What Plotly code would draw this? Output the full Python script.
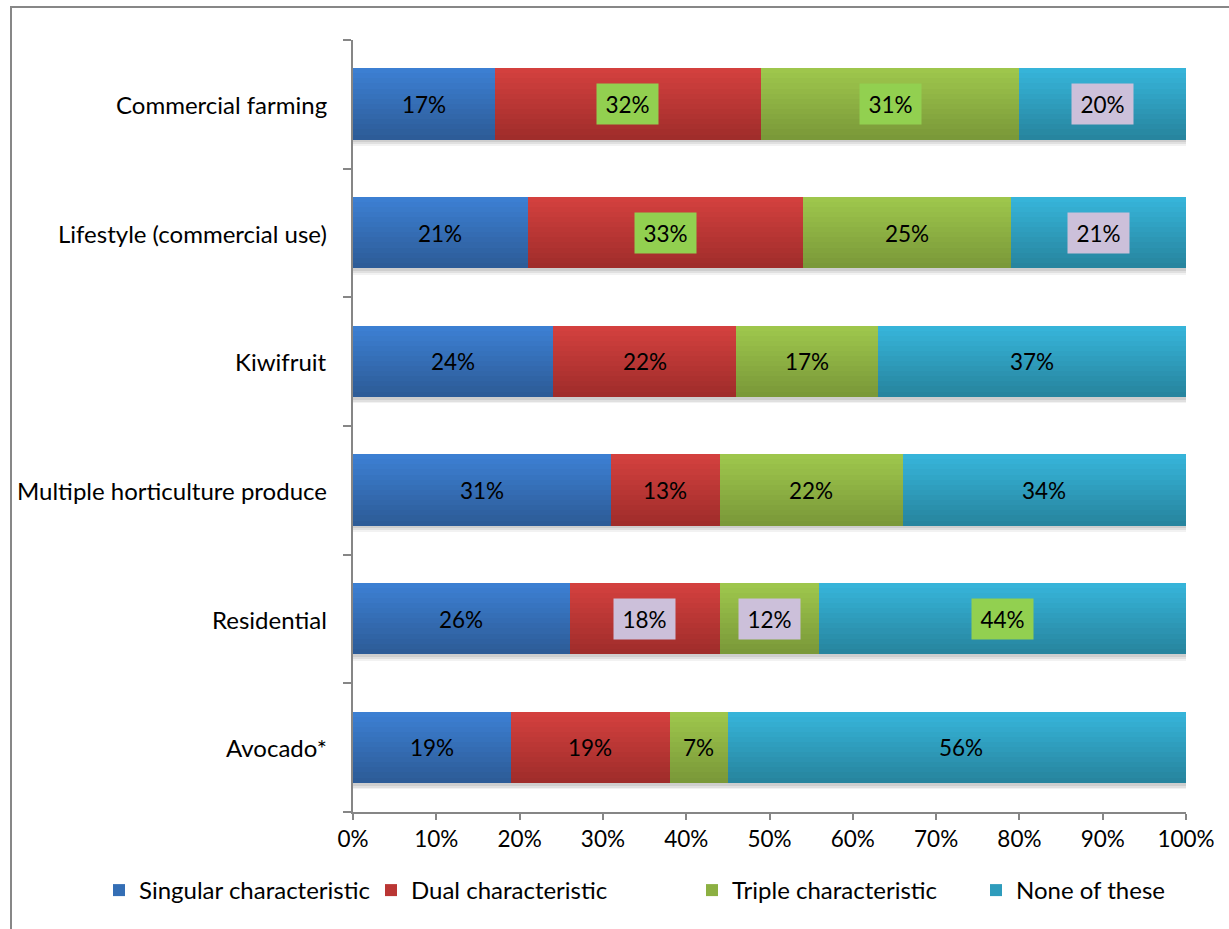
import numpy as np
import plotly.graph_objects as go

# Land-use groups, top to bottom
categories = [
    "Commercial farming",
    "Lifestyle (commercial use)",
    "Kiwifruit",
    "Multiple horticulture produce",
    "Residential",
    "Avocado*",
]

series_names = [
    "Singular characteristic",
    "Dual characteristic",
    "Triple characteristic",
    "None of these",
]

singular = [17, 21, 24, 31, 26, 19]
dual = [32, 33, 22, 13, 18, 19]
triple = [31, 25, 17, 22, 12, 7]
none_of_these = [20, 21, 37, 34, 44, 56]

x_tick_labels = ["0%", "10%", "20%", "30%", "40%", "50%", "60%", "70%", "80%", "90%", "100%"]

# Label backgrounds: (category index, series index) -> fill
label_highlights = {
    (0, 1): "#92D050", (0, 2): "#92D050", (0, 3): "#CCC0DA",
    (1, 1): "#92D050", (1, 3): "#CCC0DA",
    (4, 1): "#CCC0DA", (4, 2): "#CCC0DA", (4, 3): "#92D050",
}

# Gradient colours for each series (top, bottom)
gradients = [
    ("#3C7FD2", "#2D5C98"),
    ("#D3403E", "#A02D2B"),
    ("#9EC64C", "#7A9939"),
    ("#36B4D9", "#27859F"),
]

# Left edge (px) of each legend entry along the bottom row
legend_left_px = [99, 371, 692, 976]

values = np.array([singular, dual, triple, none_of_these], dtype=float) / 100.0
bases = np.vstack([np.zeros(len(categories)), np.cumsum(values, axis=0)[:-1]])

y_pos = np.arange(len(categories))
bar_w = 0.55
n_strips = 14

FONT = "Lato, Carlito, sans-serif"


def mix(c1, c2, t):
    a = np.array([int(c1[i:i + 2], 16) for i in (1, 3, 5)])
    b = np.array([int(c2[i:i + 2], 16) for i in (1, 3, 5)])
    c = np.round(a + (b - a) * t).astype(int)
    return "#%02x%02x%02x" % tuple(c)


fig = go.Figure()

# Soft shadow beneath each bar
row_total = values.sum(axis=0)
for dy, a in ((0.05, 0.05), (0.035, 0.07), (0.02, 0.08)):
    fig.add_trace(go.Bar(
        y=y_pos + dy, x=row_total, base=np.zeros(len(categories)),
        orientation="h", width=bar_w, marker=dict(color="rgba(0,0,0,%.2f)" % a, line=dict(width=0)),
        showlegend=False, hoverinfo="skip",
    ))

strip_h = bar_w / n_strips
legend_ids = ["legend", "legend2", "legend3", "legend4"]
for s, name in enumerate(series_names):
    top, bottom = gradients[s]
    for k in range(n_strips):
        t = k / (n_strips - 1)
        # stripe k runs from the top edge of the bar downward (y axis reversed)
        centre = y_pos - bar_w / 2 + strip_h * (k + 0.5)
        fig.add_trace(go.Bar(
            y=centre, x=values[s], base=bases[s], orientation="h",
            width=strip_h * 1.25 if k < n_strips - 1 else strip_h,
            marker=dict(color=mix(top, bottom, t), line=dict(width=0)),
            name=name, legendgroup=name, showlegend=False, hoverinfo="skip",
        ))
    # legend entry
    fig.add_trace(go.Bar(
        y=[None], x=[None], orientation="h", name=name, legendgroup=name,
        marker=dict(color=mix(top, bottom, 0.5), line=dict(width=0)),
        legend=legend_ids[s],
    ))

# Value labels centred in each segment
for s in range(len(series_names)):
    for i in range(len(categories)):
        v = values[s][i]
        bg = label_highlights.get((i, s))
        fig.add_annotation(
            x=bases[s][i] + v / 2, y=y_pos[i], xref="x", yref="y",
            text="%d%%" % round(v * 100), showarrow=False,
            font=dict(family=FONT, size=22.5, color="#000000"),
            bgcolor=bg if bg else "rgba(0,0,0,0)",
            width=59 if bg else None, height=38 if bg else None,
            borderpad=1,
        )

# Outer chart frame
fig.add_shape(type="rect", xref="paper", yref="paper",
              x0=(11 - 353) / 833, x1=1.2, y0=-0.5, y1=1 + 33 / 772,
              line=dict(color="#878787", width=2), fillcolor="rgba(0,0,0,0)", layer="below")

legend_common = dict(
    orientation="h", xref="container", yref="container",
    xanchor="left", y=1 - 868 / 929, yanchor="top",
    font=dict(family=FONT, size=24, color="#000000"), itemwidth=30,
    itemclick=False, bgcolor="rgba(0,0,0,0)",
)

fig.update_layout(
    width=1229, height=929,
    margin=dict(l=353, r=43, t=40, b=117, autoexpand=False),
    paper_bgcolor="#FFFFFF", plot_bgcolor="#FFFFFF",
    barmode="overlay", bargap=0,
    font=dict(family=FONT, size=20, color="#000000"),
    showlegend=True,
    legend=dict(x=legend_left_px[0] / 1229, **legend_common),
    legend2=dict(x=legend_left_px[1] / 1229, **legend_common),
    legend3=dict(x=legend_left_px[2] / 1229, **legend_common),
    legend4=dict(x=legend_left_px[3] / 1229, **legend_common),
    xaxis=dict(
        range=[0, 1], tickvals=np.linspace(0, 1, len(x_tick_labels)), ticktext=x_tick_labels,
        tickangle=0,
        showgrid=False, zeroline=False, showline=True, linecolor="#868686", linewidth=1.5,
        ticks="outside", ticklen=6, tickcolor="#868686", tickwidth=1.5,
        tickfont=dict(family=FONT, size=22.5, color="#000000"),
    ),
    yaxis=dict(
        range=[len(categories) - 0.5, -0.5],
        tickvals=list(np.arange(-0.5, len(categories), 1.0)),
        ticktext=[""] * (len(categories) + 1),
        showgrid=False, zeroline=False, showline=True, linecolor="#868686", linewidth=1.5,
        ticks="outside", ticklen=8, tickcolor="#868686", tickwidth=1.5,
    ),
)

# Category labels at the left of the axis
for i, c in enumerate(categories):
    fig.add_annotation(
        x=0, y=y_pos[i], xref="paper", yref="y", text=c, showarrow=False,
        xanchor="right", xshift=-24, font=dict(family=FONT, size=24, color="#000000"),
    )

fig.write_html("out.html")
